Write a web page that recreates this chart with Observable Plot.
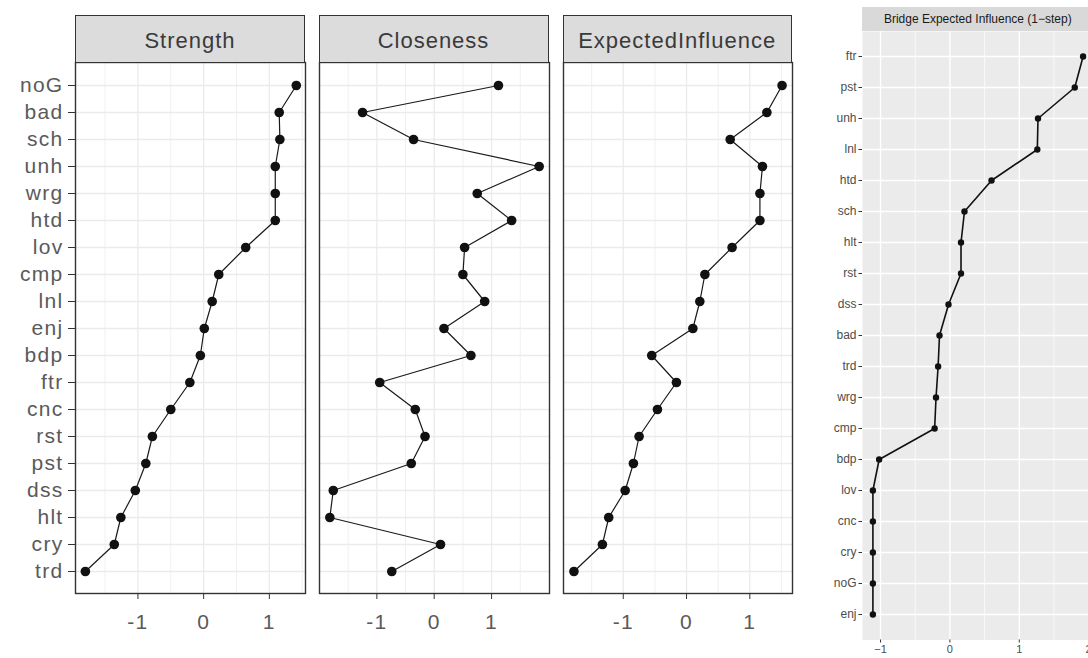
<!DOCTYPE html>
<html>
<head>
<meta charset="utf-8">
<script src="https://cdn.jsdelivr.net/npm/d3@7"></script>
<script src="https://cdn.jsdelivr.net/npm/@observablehq/plot@0.6"></script>
<style>
  html, body { margin: 0; padding: 0; width: 1088px; height: 658px; overflow: hidden; background: #fff; }
  body { position: relative; font-family: "Liberation Sans", Arial, sans-serif; }
  .pos { position: absolute; }
  .strip { position: absolute; box-sizing: border-box; display: flex; align-items: center; justify-content: center; white-space: nowrap; }
  .lstrip { background: #dcdcdc; border: 1.3px solid #333; color: #3a3a3a; font-size: 22px; letter-spacing: 1px; padding-top: 3px; }
  .rstrip { background: #d9d9d9; color: #1a1a1a; font-size: 12px; }
</style>
</head>
<body>
<script>
// ---- data ----
const nodes = ["noG","bad","sch","unh","wrg","htd","lov","cmp","lnl","enj","bdp","ftr","cnc","rst","pst","dss","hlt","cry","trd"];
const strength = [1.41,1.15,1.16,1.09,1.09,1.09,0.64,0.23,0.13,0.01,-0.05,-0.21,-0.50,-0.78,-0.88,-1.04,-1.26,-1.36,-1.80];
const closeness = [1.12,-1.25,-0.36,1.83,0.75,1.35,0.53,0.50,0.88,0.17,0.64,-0.95,-0.33,-0.16,-0.40,-1.76,-1.82,0.11,-0.74];
const expectedInfluence = [1.51,1.27,0.69,1.20,1.16,1.16,0.72,0.29,0.21,0.10,-0.55,-0.16,-0.46,-0.75,-0.84,-0.97,-1.23,-1.33,-1.78];
const panelTitles = ["Strength","Closeness","ExpectedInfluence"];

const bridgeNodes = ["ftr","pst","unh","lnl","htd","sch","hlt","rst","dss","bad","trd","wrg","cmp","bdp","lov","cnc","cry","noG","enj"];
const bridgeEI = [1.92,1.80,1.27,1.26,0.60,0.21,0.16,0.16,-0.02,-0.15,-0.17,-0.20,-0.22,-1.02,-1.11,-1.11,-1.11,-1.11,-1.11];
const bridgeTitle = "Bridge Expected Influence (1\u2212step)";

const leftTicks = [-1, 0, 1];
const leftMinor = [-1.5, -0.5, 0.5, 1.5];
const rightTicks = [-1, 0, 1, 2];
const rightMinor = [-0.5, 0.5, 1.5];

// ---- left facets ----
function leftPanel(title, vals, domain, panelLeft, panelW, showY) {
  const data = nodes.map((n, i) => ({node: n, value: vals[i]}));
  const panelTop = 62, panelH = 531;
  const mL = showY ? panelLeft : 4, mR = 4, mT = 2, mB = 62;
  const marks = [
    Plot.gridX(leftMinor, {stroke: "#ececec", strokeOpacity: 1, strokeWidth: 0.8}),
    Plot.gridX(leftTicks, {stroke: "#ebebeb", strokeOpacity: 1, strokeWidth: 1.3}),
    Plot.gridY(nodes, {stroke: "#ebebeb", strokeOpacity: 1, strokeWidth: 1.3}),
    Plot.line(data, {x: "value", y: "node", stroke: "#1a1a1a", strokeWidth: 1.2}),
    Plot.dot(data, {x: "value", y: "node", fill: "#111", stroke: "none", r: 4.8}),
    Plot.frame({stroke: "#333", strokeWidth: 1.4}),
    Plot.axisX(leftTicks, {tickSize: 6, tickPadding: 15, stroke: "#333", fill: "#5a5a5a", fontSize: 21,
      tickFormat: d => d < 0 ? "-" + Math.abs(d) : String(d), label: null})
  ];
  if (showY) marks.push(Plot.axisY(nodes, {tickSize: 7, tickPadding: 5, stroke: "#333", fill: "#5a5a5a", fontSize: 21, label: null}));
  const svg = Plot.plot({
    width: mL + panelW + mR, height: mT + panelH + mB,
    marginLeft: mL, marginRight: mR, marginTop: mT, marginBottom: mB,
    x: {domain, label: null},
    y: {type: "point", domain: nodes, padding: 0.6, axis: null, label: null},
    style: "max-width:none;overflow:visible;background:transparent;font-family:'Liberation Sans',Arial,sans-serif;letter-spacing:1.3px;",
    marks
  });
  const wrap = document.createElement("div");
  wrap.className = "pos";
  wrap.style.left = (panelLeft - mL) + "px";
  wrap.style.top = (panelTop - mT) + "px";
  wrap.style.width = (mL + panelW + mR) + "px";
  wrap.appendChild(svg);
  document.body.appendChild(wrap);
  const strip = document.createElement("div");
  strip.className = "strip lstrip";
  strip.style.left = panelLeft + "px";
  strip.style.top = "15px";
  strip.style.width = panelW + "px";
  strip.style.height = "48px";
  strip.textContent = title;
  document.body.appendChild(strip);
}

leftPanel(panelTitles[0], strength, [-1.95, 1.55], 75, 230, true);
leftPanel(panelTitles[1], closeness, [-2.0, 2.01], 318.5, 230, false);
leftPanel(panelTitles[2], expectedInfluence, [-1.945, 1.675], 562.7, 229, false);

// ---- right panel ----
(function () {
  const data = bridgeNodes.map((n, i) => ({node: n, value: bridgeEI[i]}));
  const panelLeft = 862.3, panelTop = 31, panelW = 231, panelH = 608.5;
  const mL = 62, mR = 0, mT = 0, mB = 18;
  const svg = Plot.plot({
    width: mL + panelW + mR, height: mT + panelH + mB,
    marginLeft: mL, marginRight: mR, marginTop: mT, marginBottom: mB,
    x: {domain: [-1.26, 2.07], label: null},
    y: {type: "point", domain: bridgeNodes, padding: 0.6, axis: null, label: null},
    style: "max-width:none;overflow:visible;background:transparent;font-family:'Liberation Sans',Arial,sans-serif;",
    marks: [
      Plot.frame({fill: "#ebebeb", stroke: "none"}),
      Plot.gridX(rightMinor, {stroke: "#fff", strokeOpacity: 1, strokeWidth: 0.7}),
      Plot.gridX(rightTicks, {stroke: "#fff", strokeOpacity: 1, strokeWidth: 1.4}),
      Plot.gridY(bridgeNodes, {stroke: "#fff", strokeOpacity: 1, strokeWidth: 1.4}),
      Plot.line(data, {x: "value", y: "node", stroke: "#111", strokeWidth: 1.6}),
      Plot.dot(data, {x: "value", y: "node", fill: "#111", stroke: "none", r: 3.2}),
      Plot.axisX(rightTicks, {tickSize: 3, tickPadding: 2, stroke: "#333", fill: "#4d4d4d", fontSize: 11, label: null}),
      Plot.axisY(bridgeNodes, {tickSize: 3.5, tickPadding: 2.5, stroke: "#333", fill: "#4d4d4d", fontSize: 12, label: null})
    ]
  });
  const wrap = document.createElement("div");
  wrap.className = "pos";
  wrap.style.left = (panelLeft - mL) + "px";
  wrap.style.top = (panelTop - mT) + "px";
  wrap.style.width = (mL + panelW + mR) + "px";
  wrap.appendChild(svg);
  document.body.appendChild(wrap);
  const strip = document.createElement("div");
  strip.className = "strip rstrip";
  strip.style.left = panelLeft + "px";
  strip.style.top = "7.3px";
  strip.style.width = panelW + "px";
  strip.style.height = "23.7px";
  strip.textContent = bridgeTitle;
  document.body.appendChild(strip);
})();
</script>
</body>
</html>
